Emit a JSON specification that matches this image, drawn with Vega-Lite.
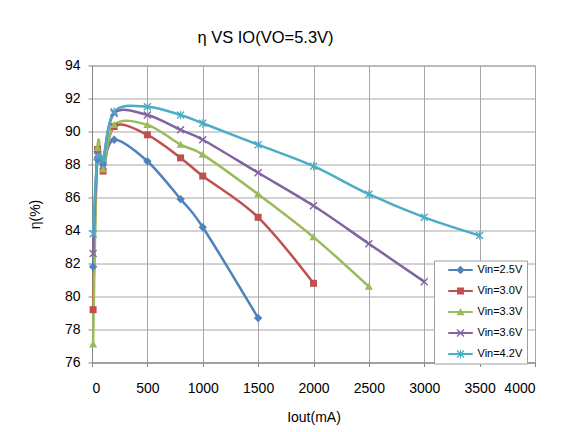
{
  "$schema": "https://vega.github.io/schema/vega-lite/v6.json",
  "width": 443,
  "height": 297,
  "autosize": {"type": "none"},
  "padding": {"left": 92, "top": 65.5, "right": 28, "bottom": 69.5},
  "background": "white",
  "title": {
    "text": "η VS IO(VO=5.3V)",
    "font": "Liberation Sans",
    "fontSize": 16.5,
    "fontWeight": "normal",
    "color": "black",
    "anchor": "middle",
    "dx": -48,
    "offset": 12
  },
  "data": {
    "values": [
      {"Vin": "Vin=2.5V", "Iout": 10, "eta": 81.8},
      {"Vin": "Vin=2.5V", "Iout": 50, "eta": 88.3},
      {"Vin": "Vin=2.5V", "Iout": 100, "eta": 88.0},
      {"Vin": "Vin=2.5V", "Iout": 200, "eta": 89.5},
      {"Vin": "Vin=2.5V", "Iout": 500, "eta": 88.2},
      {"Vin": "Vin=2.5V", "Iout": 800, "eta": 85.9},
      {"Vin": "Vin=2.5V", "Iout": 1000, "eta": 84.2},
      {"Vin": "Vin=2.5V", "Iout": 1500, "eta": 78.7},
      {"Vin": "Vin=3.0V", "Iout": 10, "eta": 79.2},
      {"Vin": "Vin=3.0V", "Iout": 50, "eta": 88.9},
      {"Vin": "Vin=3.0V", "Iout": 100, "eta": 87.6},
      {"Vin": "Vin=3.0V", "Iout": 200, "eta": 90.3},
      {"Vin": "Vin=3.0V", "Iout": 500, "eta": 89.8},
      {"Vin": "Vin=3.0V", "Iout": 800, "eta": 88.4},
      {"Vin": "Vin=3.0V", "Iout": 1000, "eta": 87.3},
      {"Vin": "Vin=3.0V", "Iout": 1500, "eta": 84.8},
      {"Vin": "Vin=3.0V", "Iout": 2000, "eta": 80.8},
      {"Vin": "Vin=3.3V", "Iout": 10, "eta": 77.1},
      {"Vin": "Vin=3.3V", "Iout": 50, "eta": 89.0},
      {"Vin": "Vin=3.3V", "Iout": 100, "eta": 87.7},
      {"Vin": "Vin=3.3V", "Iout": 200, "eta": 90.4},
      {"Vin": "Vin=3.3V", "Iout": 500, "eta": 90.4},
      {"Vin": "Vin=3.3V", "Iout": 800, "eta": 89.2},
      {"Vin": "Vin=3.3V", "Iout": 1000, "eta": 88.6},
      {"Vin": "Vin=3.3V", "Iout": 1500, "eta": 86.2},
      {"Vin": "Vin=3.3V", "Iout": 2000, "eta": 83.6},
      {"Vin": "Vin=3.3V", "Iout": 2500, "eta": 80.6},
      {"Vin": "Vin=3.6V", "Iout": 10, "eta": 82.6},
      {"Vin": "Vin=3.6V", "Iout": 50, "eta": 88.6},
      {"Vin": "Vin=3.6V", "Iout": 100, "eta": 88.3},
      {"Vin": "Vin=3.6V", "Iout": 200, "eta": 91.1},
      {"Vin": "Vin=3.6V", "Iout": 500, "eta": 91.0},
      {"Vin": "Vin=3.6V", "Iout": 800, "eta": 90.1},
      {"Vin": "Vin=3.6V", "Iout": 1000, "eta": 89.5},
      {"Vin": "Vin=3.6V", "Iout": 1500, "eta": 87.5},
      {"Vin": "Vin=3.6V", "Iout": 2000, "eta": 85.5},
      {"Vin": "Vin=3.6V", "Iout": 2500, "eta": 83.2},
      {"Vin": "Vin=3.6V", "Iout": 3000, "eta": 80.9},
      {"Vin": "Vin=4.2V", "Iout": 10, "eta": 83.8},
      {"Vin": "Vin=4.2V", "Iout": 50, "eta": 88.5},
      {"Vin": "Vin=4.2V", "Iout": 100, "eta": 88.3},
      {"Vin": "Vin=4.2V", "Iout": 200, "eta": 91.2},
      {"Vin": "Vin=4.2V", "Iout": 500, "eta": 91.5},
      {"Vin": "Vin=4.2V", "Iout": 800, "eta": 91.0},
      {"Vin": "Vin=4.2V", "Iout": 1000, "eta": 90.5},
      {"Vin": "Vin=4.2V", "Iout": 1500, "eta": 89.2},
      {"Vin": "Vin=4.2V", "Iout": 2000, "eta": 87.9},
      {"Vin": "Vin=4.2V", "Iout": 2500, "eta": 86.2},
      {"Vin": "Vin=4.2V", "Iout": 3000, "eta": 84.8},
      {"Vin": "Vin=4.2V", "Iout": 3500, "eta": 83.7}
    ]
  },
  "encoding": {
    "x": {
      "field": "Iout",
      "type": "quantitative",
      "scale": {"domain": [0, 4000], "nice": false, "zero": false},
      "axis": {
        "title": "Iout(mA)",
        "format": "d",
        "values": [0, 500, 1000, 1500, 2000, 2500, 3000, 3500, 4000],
        "labelPadding": 15,
        "titleY": 55,
        "titleBaseline": "middle"
      }
    },
    "y": {
      "field": "eta",
      "type": "quantitative",
      "scale": {"domain": [76, 94], "nice": false, "zero": false},
      "axis": {
        "title": "η(%)",
        "values": [76, 78, 80, 82, 84, 86, 88, 90, 92, 94],
        "labelPadding": 8,
        "titleX": -57,
        "titleY": 148.5,
        "titleAngle": -90,
        "titleAlign": "center",
        "titleBaseline": "middle"
      }
    }
  },
  "layer": [
    {
      "mark": {"type": "line", "interpolate": "cardinal", "strokeWidth": 2.5},
      "encoding": {
        "color": {
          "field": "Vin",
          "type": "nominal",
          "scale": {
            "domain": ["Vin=2.5V", "Vin=3.0V", "Vin=3.3V", "Vin=3.6V", "Vin=4.2V"],
            "range": ["#4F81BD", "#C0504D", "#9BBB59", "#8064A2", "#4BACC6"]
          },
          "legend": null
        }
      }
    },
    {
      "mark": {"type": "point", "filled": true, "size": 49, "opacity": 1},
      "encoding": {
        "color": {
          "field": "Vin",
          "type": "nominal",
          "scale": {
            "domain": ["Vin=2.5V", "Vin=3.0V", "Vin=3.3V", "Vin=3.6V", "Vin=4.2V"],
            "range": ["#4F81BD", "#C0504D", "#9BBB59", "#8064A2", "#4BACC6"]
          },
          "legend": null
        },
        "shape": {
          "field": "Vin",
          "type": "nominal",
          "scale": {
            "domain": ["Vin=2.5V", "Vin=3.0V", "Vin=3.3V", "Vin=3.6V", "Vin=4.2V"],
            "range": [
              "M0,-1.2L-1.2,0L0,1.2L1.2,0Z",
              "M-1,-1V1H1V-1Z",
              "M0,-1.15L-1.15,0.9H1.15Z",
              "M-1.14,-0.86L0.86,1.14L1.14,0.86L-0.86,-1.14ZM-0.86,1.14L1.14,-0.86L0.86,-1.14L-1.14,0.86Z",
              "M-1.14,-0.86L0.86,1.14L1.14,0.86L-0.86,-1.14ZM-0.86,1.14L1.14,-0.86L0.86,-1.14L-1.14,0.86ZM-0.14,-1.25V1.25H0.14V-1.25Z"
            ]
          },
          "legend": null
        }
      }
    },
    {
      "transform": [{"filter": "datum.Iout < 0"}],
      "mark": {"type": "point", "filled": true, "size": 49, "opacity": 1},
      "encoding": {
        "color": {
          "field": "Vin",
          "type": "nominal",
          "scale": {
            "domain": ["Vin=2.5V", "Vin=3.0V", "Vin=3.3V", "Vin=3.6V", "Vin=4.2V"],
            "range": ["#4F81BD", "#C0504D", "#9BBB59", "#8064A2", "#4BACC6"]
          },
          "legend": {
            "title": null,
            "orient": "none",
            "legendX": 342,
            "legendY": 195,
            "padding": 4,
            "rowPadding": 9,
            "symbolOffset": 17,
            "labelOffset": 11.5,
            "symbolSize": 49,
            "symbolStrokeWidth": 0,
            "labelFont": "Liberation Sans",
            "labelFontSize": 11,
            "labelColor": "black",
            "strokeColor": "#a0a0a0",
            "fillColor": "white"
          }
        },
        "shape": {
          "field": "Vin",
          "type": "nominal",
          "scale": {
            "domain": ["Vin=2.5V", "Vin=3.0V", "Vin=3.3V", "Vin=3.6V", "Vin=4.2V"],
            "range": [
              "M-3.5,-0.3V0.3H3.5V-0.3ZM0,-1.2L-1.2,0L0,1.2L1.2,0Z",
              "M-3.5,-0.3V0.3H3.5V-0.3ZM-1,-1V1H1V-1Z",
              "M-3.5,-0.3V0.3H3.5V-0.3ZM0,-1.15L-1.15,0.9H1.15Z",
              "M-3.5,-0.3V0.3H3.5V-0.3ZM-1.14,-0.86L0.86,1.14L1.14,0.86L-0.86,-1.14ZM-0.86,1.14L1.14,-0.86L0.86,-1.14L-1.14,0.86Z",
              "M-3.5,-0.3V0.3H3.5V-0.3ZM-1.14,-0.86L0.86,1.14L1.14,0.86L-0.86,-1.14ZM-0.86,1.14L1.14,-0.86L0.86,-1.14L-1.14,0.86ZM-0.14,-1.25V1.25H0.14V-1.25Z"
            ]
          },
          "legend": {
            "title": null,
            "orient": "none",
            "legendX": 342,
            "legendY": 195,
            "padding": 4,
            "rowPadding": 9,
            "symbolOffset": 17,
            "labelOffset": 11.5,
            "symbolSize": 49,
            "symbolStrokeWidth": 0,
            "labelFont": "Liberation Sans",
            "labelFontSize": 11,
            "labelColor": "black",
            "strokeColor": "#a0a0a0",
            "fillColor": "white"
          }
        }
      }
    }
  ],
  "resolve": {
    "scale": {"color": "independent", "shape": "independent"},
    "legend": {"color": "independent", "shape": "independent"}
  },
  "config": {
    "view": {"stroke": "#a0a0a0", "strokeWidth": 1},
    "axis": {
      "labelFont": "Liberation Sans",
      "labelFontSize": 14,
      "labelColor": "black",
      "titleFont": "Liberation Sans",
      "titleFontSize": 14,
      "titleFontWeight": "normal",
      "titleColor": "black",
      "gridColor": "#a6a6a6",
      "gridOpacity": 1,
      "domainColor": "#868686",
      "tickColor": "#868686",
      "tickSize": 4
    }
  }
}
